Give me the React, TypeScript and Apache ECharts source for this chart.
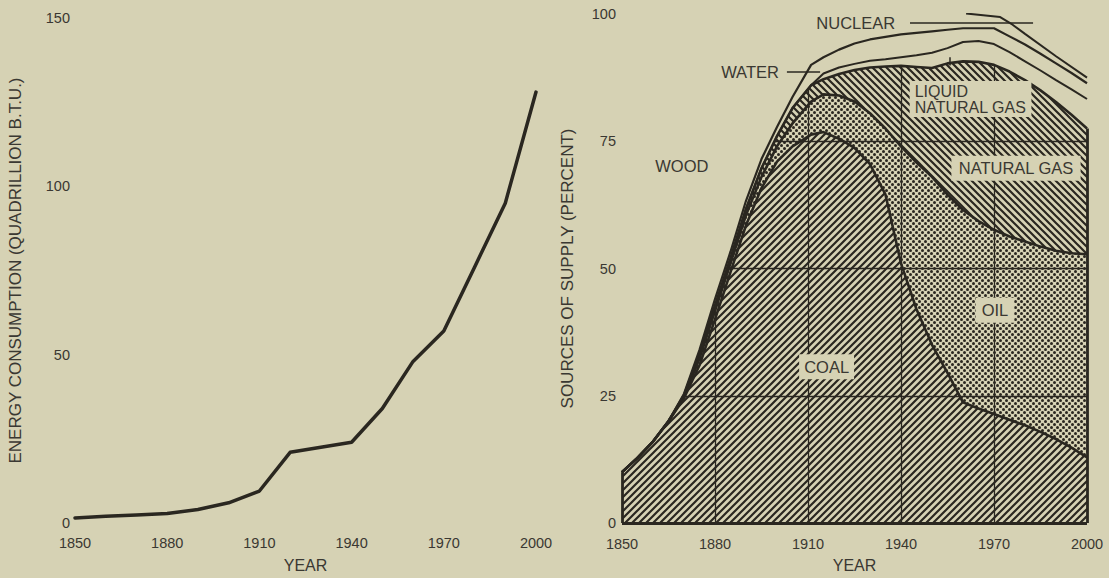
import React, { useEffect, useRef } from "react";
import * as echarts from "echarts";

const BG = "#d6d2b4";
const INK = "#2a2720";
const TEXT = "#3a3832";
const FONT = "'Liberation Sans', Arial, Helvetica, sans-serif";

// ---------- tick labels ----------
const yearTicks = [1850, 1880, 1910, 1940, 1970, 2000];
const energyTicks = [0, 50, 100, 150];
const percentTicks = [0, 25, 50, 75, 100];

// ---------- left chart: energy consumption ----------
const consumptionYears = [1850, 1860, 1870, 1880, 1890, 1900, 1910, 1920, 1930, 1940, 1950, 1960, 1970, 1980, 1990, 2000];
const consumptionValues = [1.5, 2.0, 2.4, 2.8, 4.0, 6.0, 9.5, 21, 22.5, 24, 34, 48, 57, 76, 95, 128];

// ---------- right chart: cumulative tops of the sources (percent) ----------
const supplyYears = [1850, 1855, 1860, 1865, 1870, 1875, 1880, 1885, 1890, 1895, 1900, 1905, 1911, 1915, 1920, 1925, 1930, 1935, 1940, 1945, 1950, 1955, 1960, 1965, 1970, 1975, 1980, 1985, 1990, 1995, 2000];
const coalTop = [10, 12.8, 16, 20, 24.5, 31, 40, 49.3, 58.5, 65.8, 71, 74, 76.3, 76.8, 75.5, 73.7, 70.5, 64.5, 51, 42, 35, 29.5, 23.7, 22.5, 21.4, 20.3, 19.2, 17.9, 16.5, 14.8, 12.9];
const oilTop = [10, 12.8, 16, 20, 24.8, 32.3, 41.7, 51, 60.5, 68, 74, 78.5, 82.8, 84.2, 84, 82.8, 80.5, 77.5, 74, 70.8, 68, 64.5, 61.5, 59.3, 57.6, 56.3, 55.3, 54.3, 53.5, 53, 52.8];
const gasTop = [10, 12.8, 16, 20, 25.1, 33.3, 42.7, 52, 61.7, 69.7, 76, 81.5, 86, 87.2, 88.2, 89, 89.5, 89.7, 89.8, 89.6, 89.4, 90.3, 90.7, 90.6, 90, 88.7, 87, 85, 82.7, 80.2, 77.5];
const lngTop = [10, 12.8, 16, 20, 25.1, 33.3, 42.7, 52, 61.7, 69.7, 76, 81.5, 86, 88.3, 89.5, 90.2, 90.8, 91.1, 91.5, 91.9, 92.4, 93.3, 94.5, 94.7, 94.1, 92.5, 90.7, 88.9, 87, 85.2, 83.3];
const waterTop = [10, 12.8, 16, 20, 25.4, 34, 44, 53.3, 63.3, 71.5, 77.8, 83.7, 90, 91.5, 93, 94.2, 95, 95.5, 96, 96.3, 96.6, 96.9, 97.2, 97.2, 97.2, 95.6, 94, 92.2, 90.3, 88.4, 86.4];
const nuclearYears = [1961, 1972, 1976, 1980, 1990, 2000];
const nuclearTop = [100.1, 99.4, 97.9, 96.1, 91.7, 87.5];

const zip = (xs: number[], ys: number[]) => xs.map((x, i) => [x, ys[i]]);

function interp(xs: number[], ys: number[], x: number) {
  for (let i = 1; i < xs.length; i++) {
    if (x <= xs[i]) {
      const t = (x - xs[i - 1]) / (xs[i] - xs[i - 1]);
      return ys[i - 1] + t * (ys[i] - ys[i - 1]);
    }
  }
  return ys[ys.length - 1];
}
function crossing(xs: number[], ys: number[], level: number) {
  for (let i = 1; i < xs.length; i++) {
    if (ys[i] >= level) {
      const t = (level - ys[i - 1]) / (ys[i] - ys[i - 1]);
      return xs[i - 1] + t * (xs[i] - xs[i - 1]);
    }
  }
  return xs[xs.length - 1];
}

function makePattern(kind: "slash" | "back" | "dots") {
  const s = kind === "dots" ? 6 : 7;
  const c = document.createElement("canvas");
  c.width = s;
  c.height = s;
  const g = c.getContext("2d")!;
  g.fillStyle = BG;
  g.fillRect(0, 0, s, s);
  g.fillStyle = INK;
  g.strokeStyle = INK;
  if (kind === "dots") {
    for (const [x, y] of [[1.5, 1.5], [4.5, 4.5]]) {
      g.beginPath();
      g.arc(x, y, 1.5, 0, Math.PI * 2);
      g.fill();
    }
  } else {
    g.lineWidth = 2.2;
    g.beginPath();
    for (const o of [-s, 0, s]) {
      if (kind === "slash") {
        g.moveTo(o - 1, s + 1);
        g.lineTo(o + s + 1, -1);
      } else {
        g.moveTo(o - 1, -1);
        g.lineTo(o + s + 1, s + 1);
      }
    }
    g.stroke();
  }
  return { image: c as any, repeat: "repeat", imageWidth: s, imageHeight: s } as any;
}

function buildOption() {
  const first = yearTicks[0];
  const last = yearTicks[yearTicks.length - 1];
  const tickLabel = { color: TEXT, fontSize: 14.5, fontFamily: FONT };
  const nameStyle = { color: TEXT, fontSize: 17, fontFamily: FONT };

  const xCommon = (gi: number, margin: number) => ({
    gridIndex: gi,
    type: "value",
    min: first,
    max: last,
    name: "YEAR",
    nameLocation: "middle",
    nameGap: 34,
    nameTextStyle: { ...nameStyle, fontSize: 16 },
    axisLine: { show: false },
    axisTick: { show: false },
    splitLine: { show: false },
    axisLabel: {
      ...tickLabel,
      margin,
      customValues: yearTicks,
      showMinLabel: true,
      showMaxLabel: true,
      formatter: (v: number) => String(v),
    },
  });

  const verticalGrid = yearTicks.slice(1, -1).map((y) => [
    { coord: [y, 0] },
    { coord: [y, interp(supplyYears, gasTop, y)] },
  ]);
  const horizontalGrid = percentTicks.slice(1, -1).map((p) => [
    { coord: [crossing(supplyYears, gasTop, p), p] },
    { coord: [last, p] },
  ]);
  const edges = [
    [{ coord: [first, 0] }, { coord: [last, 0] }],
    [{ coord: [first, 0] }, { coord: [first, coalTop[0]] }],
    [{ coord: [last, 0] }, { coord: [last, gasTop[gasTop.length - 1]] }],
  ];
  const leaders = [
    [{ coord: [1903.2, 88.6] }, { coord: [1913.9, 88.6] }],
    [{ coord: [1942.9, 98.2] }, { coord: [1982.6, 98.2] }],
    [{ coord: [1955.8, 89.9] }, { coord: [1955.8, 91.5] }],
  ];

  const boxLabel = (pad: number[]) => ({ backgroundColor: BG, padding: pad });
  const labels = [
    { name: "COAL", coord: [1916, 30.7], label: boxLabel([4, 5]) },
    { name: "OIL", coord: [1970.3, 41.8], label: boxLabel([4, 6]) },
    { name: "NATURAL GAS", coord: [1977.1, 69.7], label: boxLabel([4, 7]) },
    {
      name: "LIQUID\nNATURAL GAS",
      coord: [1942.8, 83.3],
      label: { ...boxLabel([2, 5]), align: "left", lineHeight: 16, fontSize: 16 },
    },
    { name: "WOOD", coord: [1869.3, 70.1], label: {} },
    { name: "WATER", coord: [1891.3, 88.6], label: {} },
    { name: "NUCLEAR", coord: [1925.4, 98.2], label: {} },
  ];

  const areaSeries = (data: number[], pattern: any, z: number) => ({
    type: "line",
    xAxisIndex: 1,
    yAxisIndex: 1,
    data: zip(supplyYears, data),
    symbol: "none",
    showSymbol: false,
    z,
    lineStyle: { color: INK, width: 2.6 },
    areaStyle: { color: pattern, opacity: 1 },
    silent: true,
  });
  const lineSeries = (xs: number[], data: number[], width: number) => ({
    type: "line",
    xAxisIndex: 1,
    yAxisIndex: 1,
    data: zip(xs, data),
    symbol: "none",
    showSymbol: false,
    z: 4,
    lineStyle: { color: INK, width },
    silent: true,
  });
  const markerHost = (markLine: any, markPoint?: any) => ({
    type: "line",
    xAxisIndex: 1,
    yAxisIndex: 1,
    data: [],
    clip: false,
    silent: true,
    markLine,
    markPoint,
  });
  const ml = (data: any[], width: number) => ({
    symbol: ["none", "none"],
    silent: true,
    label: { show: false },
    lineStyle: { color: INK, width, type: "solid" },
    data,
  });

  return {
    animation: false,
    backgroundColor: BG,
    textStyle: { fontFamily: FONT },
    grid: [
      { left: 75, right: 573, top: 18, bottom: 52 },
      { left: 622, right: 22, top: 14, bottom: 53 },
    ],
    xAxis: [xCommon(0, 12), xCommon(1, 13)],
    yAxis: [
      {
        gridIndex: 0,
        type: "value",
        min: energyTicks[0],
        max: energyTicks[energyTicks.length - 1],
        interval: energyTicks[1] - energyTicks[0],
        name: "ENERGY CONSUMPTION (QUADRILLION B.T.U.)",
        nameLocation: "middle",
        nameGap: 51,
        nameTextStyle: nameStyle,
        axisLine: { show: false },
        axisTick: { show: false },
        splitLine: { show: false },
        axisLabel: { ...tickLabel, margin: 5 },
      },
      {
        gridIndex: 1,
        type: "value",
        min: percentTicks[0],
        max: percentTicks[percentTicks.length - 1],
        interval: percentTicks[1] - percentTicks[0],
        name: "SOURCES OF SUPPLY (PERCENT)",
        nameLocation: "middle",
        nameGap: 46,
        nameTextStyle: nameStyle,
        axisLine: { show: false },
        axisTick: { show: false },
        splitLine: { show: false },
        axisLabel: { ...tickLabel, margin: 6, padding: [5, 0, 0, 0] },
      },
    ],
    series: [
      {
        type: "line",
        xAxisIndex: 0,
        yAxisIndex: 0,
        data: zip(consumptionYears, consumptionValues),
        symbol: "none",
        showSymbol: false,
        lineStyle: { color: INK, width: 3.5, cap: "round", join: "round" },
        silent: true,
      },
      areaSeries(gasTop, makePattern("back"), 2),
      areaSeries(oilTop, makePattern("dots"), 2),
      areaSeries(coalTop, makePattern("slash"), 2),
      lineSeries(supplyYears, lngTop, 2),
      lineSeries(supplyYears, waterTop, 2.2),
      lineSeries(nuclearYears, nuclearTop, 2),
      markerHost(ml([...verticalGrid, ...horizontalGrid], 1.3)),
      markerHost(ml(edges, 2.8)),
      markerHost(ml(leaders, 1.5), {
        z: 8,
        symbol: "circle",
        symbolSize: 1,
        itemStyle: { color: "rgba(0,0,0,0)" },
        silent: true,
        label: {
          show: true,
          position: "inside",
          formatter: (p: any) => p.name,
          color: TEXT,
          fontSize: 16.5,
          fontFamily: FONT,
        },
        data: labels,
      }),
    ],
  };
}

export default function App() {
  const ref = useRef<HTMLDivElement>(null);
  useEffect(() => {
    document.body.style.margin = "0";
    document.body.style.background = BG;
    const chart = echarts.init(ref.current!, null, { renderer: "svg" });
    chart.setOption(buildOption() as any);
    return () => chart.dispose();
  }, []);
  return <div ref={ref} style={{ position: "fixed", left: 0, top: 0, width: 1109, height: 578 }} />;
}
